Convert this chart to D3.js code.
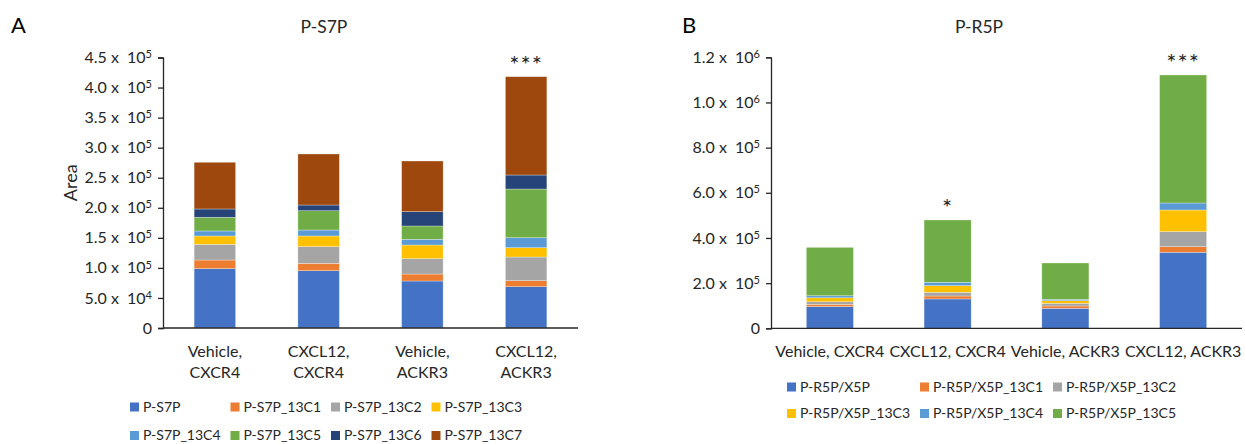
<!DOCTYPE html>
<html>
<head>
<meta charset="utf-8">
<script src="https://cdn.jsdelivr.net/npm/d3@7"></script>
<style>
  body { margin: 0; background: #fff; }
  svg text { font-family: Lato, "Open Sans", sans-serif; fill: #262626; white-space: pre; }
</style>
</head>
<body>
<svg id="chart" width="1245" height="444"></svg>
<script>
// ---- datos panel A (P-S7P) ----
const groupsA = ['Vehicle,|CXCR4', 'CXCL12,|CXCR4', 'Vehicle,|ACKR3', 'CXCL12,|ACKR3'];
const seriesA = ['P-S7P', 'P-S7P_13C1', 'P-S7P_13C2', 'P-S7P_13C3', 'P-S7P_13C4', 'P-S7P_13C5', 'P-S7P_13C6', 'P-S7P_13C7'];
const valuesA = [
  [98700, 14400, 26100, 13900, 8300, 22800, 13800, 77700],
  [95300, 12300, 27700, 17800, 9900, 32100, 9500, 84900],
  [78200, 11600, 25500, 22800, 9500, 22100, 23800, 84300],
  [68700, 10000, 39400, 15500, 16600, 81000, 23300, 163600]
];
const ticksA = [0, 50000, 100000, 150000, 200000, 250000, 300000, 350000, 400000, 450000];
const starsA = ['', '', '', '***'];

// ---- datos panel B (P-R5P) ----
const groupsB = ['Vehicle, CXCR4', 'CXCL12, CXCR4', 'Vehicle, ACKR3', 'CXCL12, ACKR3'];
const seriesB = ['P-R5P/X5P', 'P-R5P/X5P_13C1', 'P-R5P/X5P_13C2', 'P-R5P/X5P_13C3', 'P-R5P/X5P_13C4', 'P-R5P/X5P_13C5'];
const valuesB = [
  [96000, 10000, 11500, 17700, 8900, 214300],
  [130000, 13000, 16400, 29300, 15000, 275900],
  [88600, 10200, 11900, 11500, 6200, 160800],
  [336600, 24800, 66400, 96100, 31000, 566900]
];
const ticksB = [0, 200000, 400000, 600000, 800000, 1000000, 1200000];
const starsB = ['', '*', '', '***'];

const colors = ['#4472C4', '#ED7D31', '#A5A5A5', '#FFC000', '#5B9BD5', '#70AD47', '#264478', '#9E480E'];

const svg = d3.select('#chart');

// formatea 450000 -> "4.5 x 10" + sup "5"
function sciParts(v) {
  if (v === 0) return null;
  const exp = Math.floor(Math.log10(v));
  const mant = v / Math.pow(10, exp);
  return { mant: mant.toFixed(1), exp: exp };
}

function drawPanel(cfg) {
  const g = svg.append('g');
  const y = d3.scaleLinear().domain([0, cfg.ticks[cfg.ticks.length - 1]]).range([cfg.bottom, cfg.top]);
  const x = d3.scaleBand().domain(cfg.groups).range([cfg.left, cfg.right]).paddingInner(0.6).paddingOuter(0.3);

  // apilado
  const rows = cfg.groups.map((grp, i) => {
    const r = { group: grp };
    cfg.series.forEach((s, j) => { r[s] = cfg.values[i][j]; });
    return r;
  });
  const stacked = d3.stack().keys(cfg.series)(rows);

  g.selectAll('g.layer')
    .data(stacked)
    .join('g')
    .attr('class', 'layer')
    .attr('fill', (d, i) => colors[i])
    .selectAll('rect')
    .data(d => d)
    .join('rect')
    .attr('x', d => x(d.data.group))
    .attr('width', x.bandwidth())
    .attr('y', d => y(d[1]))
    .attr('height', d => y(d[0]) - y(d[1]))
    .attr('stroke', 'rgba(255,255,255,0.5)')
    .attr('stroke-width', 0.6);

  // eje Y
  const yAxis = d3.axisLeft(y).tickValues(cfg.ticks).tickSize(5).tickFormat('');
  const ya = g.append('g').attr('transform', `translate(${cfg.left},0)`).call(yAxis);
  ya.select('.domain').attr('stroke', '#262626').attr('stroke-width', 1.3);
  ya.selectAll('.tick line').attr('stroke', '#262626').attr('stroke-width', 1.3);

  cfg.ticks.forEach(t => {
    const txt = g.append('text')
      .attr('x', cfg.left - 11)
      .attr('y', y(t))
      .attr('dy', '0.35em')
      .attr('text-anchor', 'end')
      .style('font-size', '16px');
    const p = sciParts(t);
    if (!p) { txt.text('0'); return; }
    txt.append('tspan').text(`${p.mant} x  10`);
    txt.append('tspan').attr('dy', '-0.45em').style('font-size', '11px').text(p.exp);
  });

  // eje X
  g.append('line')
    .attr('x1', cfg.left).attr('x2', cfg.right)
    .attr('y1', cfg.bottom).attr('y2', cfg.bottom)
    .attr('stroke', '#262626').attr('stroke-width', 1.3);

  cfg.groups.forEach(grp => {
    const lines = grp.split('|');
    const t = g.append('text')
      .attr('x', x(grp) + x.bandwidth() / 2)
      .attr('y', cfg.bottom + 29)
      .attr('text-anchor', 'middle')
      .style('font-size', '16px');
    lines.forEach((ln, k) => {
      t.append('tspan').attr('x', x(grp) + x.bandwidth() / 2).attr('dy', k === 0 ? 0 : '1.3em').text(ln);
    });
  });

  // asteriscos
  cfg.groups.forEach((grp, i) => {
    if (!cfg.stars[i]) return;
    const total = d3.sum(cfg.values[i]);
    g.append('text')
      .attr('x', x(grp) + x.bandwidth() / 2)
      .attr('y', y(total) - 4)
      .attr('text-anchor', 'middle')
      .style('font-size', '24px')
      .style('letter-spacing', '1px')
      .text(cfg.stars[i]);
  });

  // titulo y letra
  g.append('text').attr('x', cfg.titleX).attr('y', 33).attr('text-anchor', 'middle')
    .style('font-size', '17.5px').text(cfg.title);
  g.append('text').attr('x', cfg.letterX).attr('y', 33)
    .style('font-size', '22px').style('fill', '#000').text(cfg.letter);

  if (cfg.yLabel) {
    g.append('text')
      .attr('transform', `translate(${cfg.yLabelX},${(cfg.top + cfg.bottom) / 2 - 10}) rotate(-90)`)
      .attr('text-anchor', 'middle')
      .attr('dy', '0.35em')
      .style('font-size', '18px')
      .text(cfg.yLabel);
  }

  // leyenda
  cfg.series.forEach((s, i) => {
    const col = i % cfg.legendCols;
    const row = Math.floor(i / cfg.legendCols);
    const lx = cfg.legendX + col * cfg.legendDx;
    const ly = cfg.legendY + row * cfg.legendDy;
    g.append('rect').attr('x', lx).attr('y', ly - 4.5).attr('width', 9).attr('height', 9).attr('fill', colors[i]);
    g.append('text').attr('x', lx + 13).attr('y', ly).attr('dy', '0.35em')
      .style('font-size', '14px').text(s);
  });
}

drawPanel({
  groups: groupsA, series: seriesA, values: valuesA, ticks: ticksA, stars: starsA,
  left: 163, right: 578, top: 57.5, bottom: 328,
  title: 'P-S7P', titleX: 324, letter: 'A', letterX: 11,
  yLabel: 'Area', yLabelX: 71,
  legendX: 130, legendY: 407, legendDx: 100.5, legendDy: 28.5, legendCols: 4
});

drawPanel({
  groups: groupsB, series: seriesB, values: valuesB, ticks: ticksB, stars: starsB,
  left: 771, right: 1242, top: 57.3, bottom: 328.3,
  title: 'P-R5P', titleX: 979, letter: 'B', letterX: 682,
  legendX: 787, legendY: 387, legendDx: 133, legendDy: 26.5, legendCols: 3
});
</script>
</body>
</html>
